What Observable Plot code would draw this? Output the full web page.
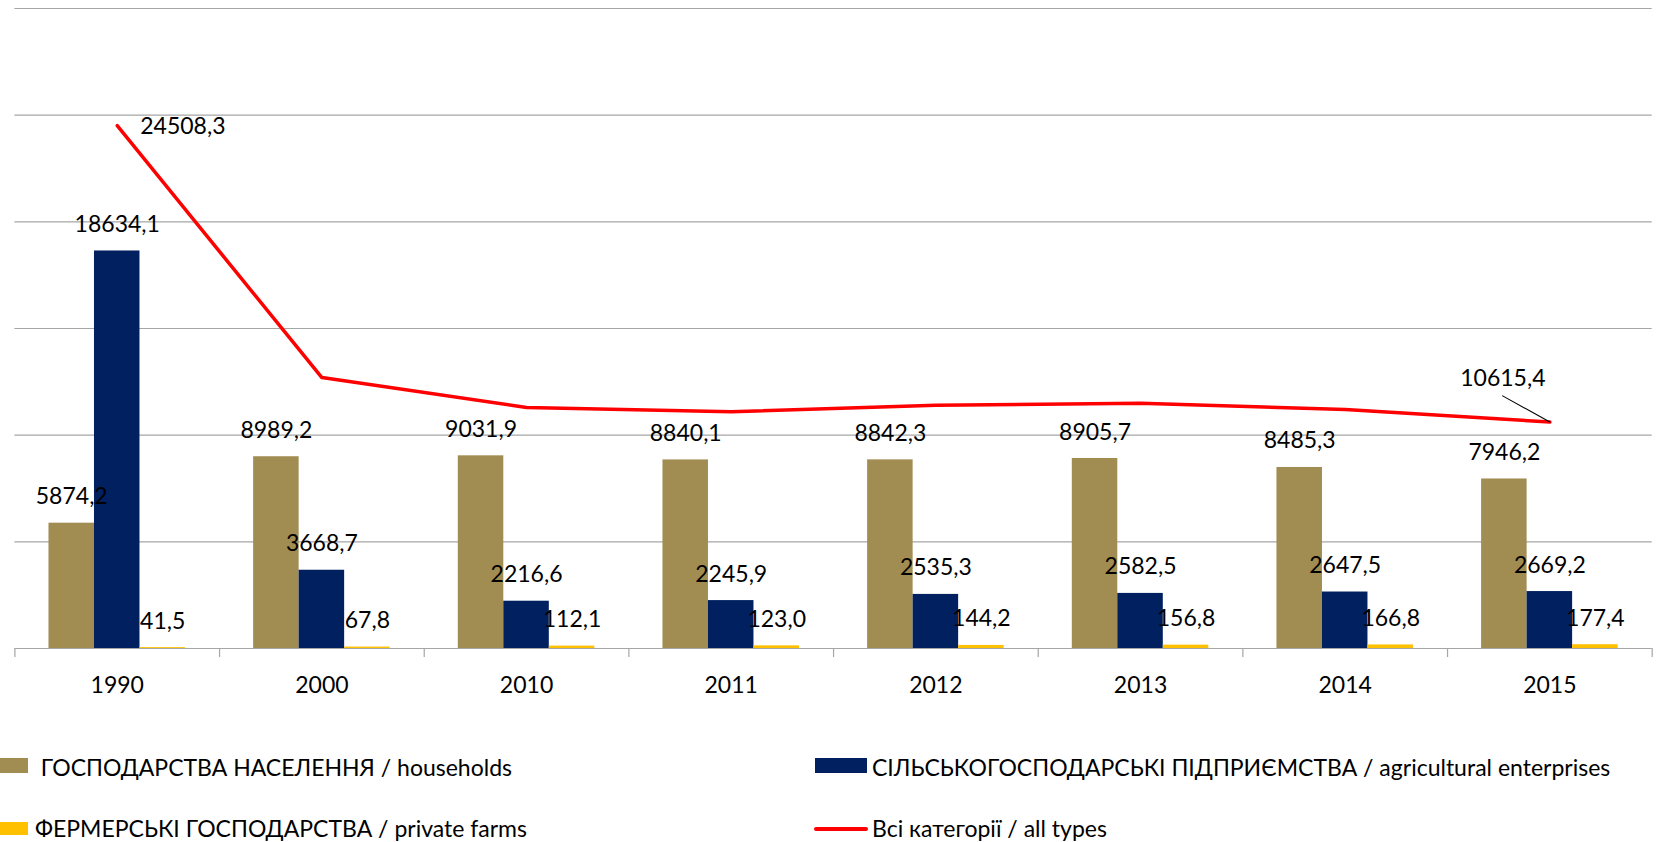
<!DOCTYPE html>
<html>
<head>
<meta charset="utf-8">
<script src="https://cdn.jsdelivr.net/npm/d3@7"></script>
<script src="https://cdn.jsdelivr.net/npm/@observablehq/plot@0.6"></script>
<style>
  html, body { margin: 0; padding: 0; background: #fff; overflow: hidden; }
  #chart svg { display: block; }
  #legend { position: relative; width: 1679px; height: 122px; font-family: Lato, "Open Sans", sans-serif; font-size: 23px; color: #000; }
  #legend .sw { position: absolute; }
  #legend .tx { position: absolute; line-height: 1; white-space: nowrap; }
</style>
</head>
<body>
<div id="chart"></div>
<div id="legend"></div>
<script>
// ---- data ----
const years = ["1990", "2000", "2010", "2011", "2012", "2013", "2014", "2015"];
const households = [5874.2, 8989.2, 9031.9, 8840.1, 8842.3, 8905.7, 8485.3, 7946.2];
const enterprises = [18634.1, 3668.7, 2216.6, 2245.9, 2535.3, 2582.5, 2647.5, 2669.2];
const farms = [41.5, 67.8, 112.1, 123.0, 144.2, 156.8, 166.8, 177.4];
const allTypes = [24508.3, 12700, 11300, 11100, 11400, 11500, 11200, 10615.4];
const yTicks = [0, 5000, 10000, 15000, 20000, 25000, 30000];
const seriesNames = [
  "ГОСПОДАРСТВА НАСЕЛЕННЯ / households",
  "СІЛЬСЬКОГОСПОДАРСЬКІ ПІДПРИЄМСТВА / agricultural enterprises",
  "ФЕРМЕРСЬКІ ГОСПОДАРСТВА / private farms",
  "Всі категорії / all types"
];
const colors = ["#A18C51", "#002060", "#FFC000", "#FF0000"];

// ---- table ----
const rows = years.map((year, i) => ({
  year, households: households[i], enterprises: enterprises[i], farms: farms[i], all: allTypes[i]
}));
const fmt = v => v.toFixed(1).replace(".", ",");

// ---- layout ----
const W = 1679, H = 720, mL = 14.4, mR = 27.3, mT = 8, mB = H - 648;
const bw = (W - mL - mR) / years.length;
const barW = 45.5;
const inset = (bw - barW) / 2;
const font = "Lato, 'Open Sans', sans-serif";
const labFs = 23;

const barSeries = [
  {key: "households", color: colors[0], dx: -barW},
  {key: "enterprises", color: colors[1], dx: 0},
  {key: "farms", color: colors[2], dx: barW}
];

const leaderShape = {
  draw(context, l) { context.moveTo(0, 0); context.lineTo(0, -l); }
};

const marks = [
  Plot.ruleY(yTicks.filter(d => d > 0), {stroke: "#a6a6a6", strokeWidth: 1.2}),
  ...barSeries.map(s => Plot.barY(rows, {
    x: "year", y: s.key, fill: s.color, dx: s.dx, insetLeft: inset, insetRight: inset
  })),
  Plot.ruleY([0], {stroke: "#a6a6a6", strokeWidth: 1.2}),
  Plot.ruleX(rows, {x: "year", y1: 0, y2: 0, insetBottom: -9, dx: -bw / 2, stroke: "#a6a6a6", strokeWidth: 1.2}),
  Plot.ruleX([rows[rows.length - 1]], {x: "year", y1: 0, y2: 0, insetBottom: -9, dx: bw / 2, stroke: "#a6a6a6", strokeWidth: 1.2}),
  Plot.line(rows, {x: "year", y: "all", stroke: colors[3], strokeWidth: 3.5, strokeLinejoin: "round", strokeLinecap: "round"}),
  ...barSeries.map(s => Plot.text(rows, {
    x: "year", y: s.key, text: d => fmt(d[s.key]), dx: s.dx, dy: -19,
    lineAnchor: "bottom", fontSize: labFs, fill: "#000"
  })),
  Plot.text([rows[0]], {x: "year", y: "all", text: d => fmt(d.all), textAnchor: "start", dx: 23, dy: 1, lineAnchor: "middle", fontSize: labFs, fill: "#000"}),
  Plot.vector([rows[rows.length - 1]], {x: "year", y: "all", length: 54, rotate: -61, anchor: "start", shape: leaderShape, stroke: "#000", strokeWidth: 1.1}),
  Plot.text([rows[rows.length - 1]], {x: "year", y: "all", text: d => fmt(d.all), dx: -47, dy: -36, lineAnchor: "bottom", fontSize: labFs, fill: "#000"}),
  Plot.axisX({tickSize: 0, tickPadding: 28, fontSize: labFs, fill: "#000"})
];

const chart = Plot.plot({
  width: W, height: H,
  marginLeft: mL, marginRight: mR, marginTop: mT, marginBottom: mB,
  x: {type: "band", domain: years, padding: 0, round: false, label: null},
  y: {domain: [0, 30000], axis: null},
  style: {fontFamily: font, background: "#fff", color: "#000", overflow: "visible"},
  marks
});
document.getElementById("chart").appendChild(chart);

// ---- legend ----
const legend = document.getElementById("legend");
const items = [
  {name: seriesNames[0], color: colors[0], sw: {left: 0, top: 38.3, w: 28, h: 14.4}, tx: {left: 40.7, top: 35.6}},
  {name: seriesNames[1], color: colors[1], sw: {left: 815, top: 38.2, w: 52, h: 14.5}, tx: {left: 872, top: 35.6}},
  {name: seriesNames[2], color: colors[2], sw: {left: 0, top: 101.7, w: 28, h: 13.8}, tx: {left: 35, top: 97}},
  {name: seriesNames[3], color: colors[3], sw: {left: 814, top: 107.3, w: 54, h: 4, r: 2}, tx: {left: 872, top: 97}}
];
for (const it of items) {
  const s = document.createElement("div");
  s.className = "sw";
  Object.assign(s.style, {left: it.sw.left + "px", top: it.sw.top + "px", width: it.sw.w + "px", height: it.sw.h + "px", background: it.color, borderRadius: (it.sw.r || 0) + "px"});
  legend.appendChild(s);
  const t = document.createElement("div");
  t.className = "tx";
  t.textContent = it.name;
  Object.assign(t.style, {left: it.tx.left + "px", top: it.tx.top + "px"});
  legend.appendChild(t);
}
</script>
</body>
</html>
